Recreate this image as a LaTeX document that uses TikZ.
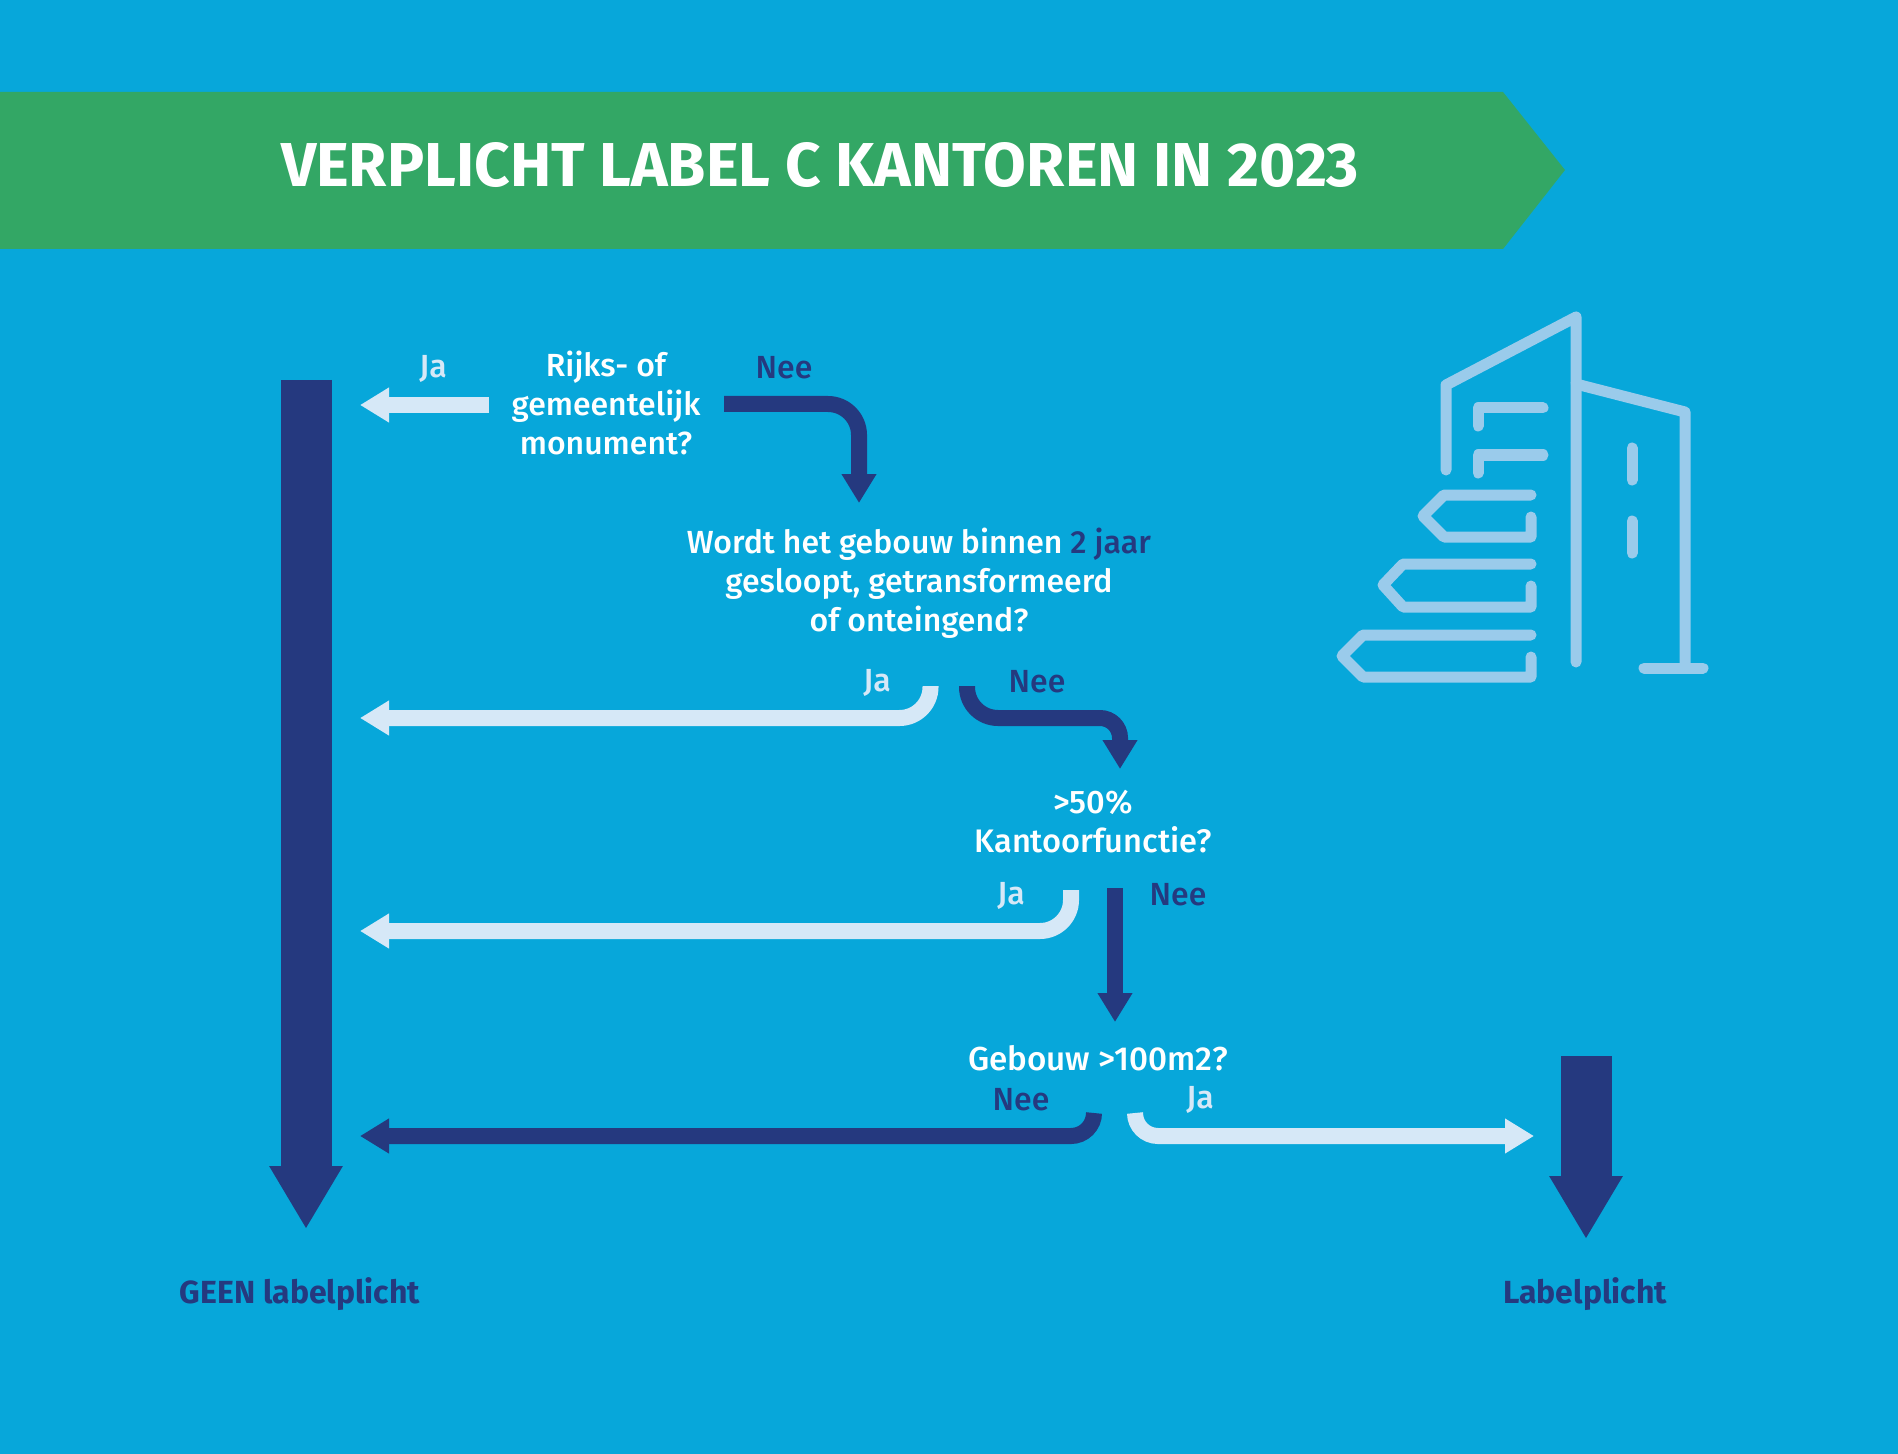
\documentclass[tikz,border=0pt]{standalone}
\usepackage{fontspec}
\setmainfont{Fira Sans Medium}[BoldFont={Fira Sans Bold}]
\usetikzlibrary{arrows.meta}
\definecolor{bgblue}{HTML}{07A7DA}
\definecolor{bannergreen}{HTML}{33A765}
\definecolor{navy}{HTML}{25397F}
\definecolor{pale}{HTML}{D6E8F7}
\definecolor{iconblue}{HTML}{9ACBEB}
\tikzset{
  x=0.5pt,y=-0.5pt,
  flowline/.style={line width=8pt,rounded corners=15.5pt,-{Triangle[length=14.5pt,width=16.5pt]}},
  yesline/.style={flowline,draw=pale},
  noline/.style={flowline,draw=navy},
  bigline/.style={line width=25.5pt,draw=navy,-{Triangle[length=31.5pt,width=34.5pt]}},
  question/.style={text=white,align=center,font=\fontsize{16}{19.6}\selectfont,inner sep=0pt},
  yeslabel/.style={text=pale,font=\fontsize{16}{20}\selectfont,inner sep=0pt},
  nolabel/.style={text=navy,font=\fontsize{16}{20}\selectfont,inner sep=0pt},
  result/.style={text=navy,font=\fontsize{16}{20}\selectfont\bfseries,inner sep=0pt},
  icon/.style={draw=iconblue,line width=5.5pt,line cap=round,line join=round}
}
\begin{document}
\begin{tikzpicture}
\useasboundingbox (0,0) rectangle (1898,1454);
\fill[bgblue] (0,0) rectangle (1898,1454);
\fill[bannergreen] (0,92) -- (1503,92) -- (1565,170) -- (1503,249) -- (0,249) -- cycle;
\node[text=white,inner sep=0pt,font=\fontsize{31}{38}\selectfont\bfseries] (title) at (820,165) {VERPLICHT LABEL C KANTOREN IN 2023};

% questions
\node[question] (q1) at (606,403) {Rijks- of\\gemeentelijk\\monument?};
\node[question] (q2) at (919,583.5) {Wordt het gebouw binnen \textcolor{navy}{2 jaar}\\gesloopt, getransformeerd\\of onteingend?};
\node[question,font=\fontsize{16.3}{19.6}\selectfont] (q3) at (1093,821.5) {>50\%\\Kantoorfunctie?};
\node[question,font=\fontsize{16.6}{19.6}\selectfont] (q4) at (1098,1058) {Gebouw >100m2?};

% labels
\node[yeslabel] (ja1) at (433,369) {Ja};
\node[nolabel] (nee1) at (784,368) {Nee};
\node[yeslabel] (ja2) at (877,683) {Ja};
\node[nolabel] (nee2) at (1037,682) {Nee};
\node[yeslabel] (ja3) at (1011,896) {Ja};
\node[nolabel] (nee3) at (1178,895) {Nee};
\node[nolabel] (nee4) at (1021,1100) {Nee};
\node[yeslabel] (ja4) at (1200,1100) {Ja};
\node[result] (geen) at (300,1294) {GEEN labelplicht};
\node[result] (plicht) at (1585,1294) {Labelplicht};

% connector ends
\coordinate (bigA) at (306,380);
\coordinate (bigAend) at (306,1229);
\coordinate (bigB) at (1586,1056);
\coordinate (bigBend) at (1586,1239);
\coordinate (a1s) at (489,405);
\coordinate (a1e) at (360,405);
\coordinate (b1s) at (724,404);
\coordinate (b1c) at (859,404);
\coordinate (b1e) at (859,503);
\coordinate (a2s) at (930.5,686);
\coordinate (a2c) at (930.5,718);
\coordinate (a2e) at (360,718);
\coordinate (b2s) at (967,686);
\coordinate (b2c) at (967,718);
\coordinate (b2d) at (1120,718);
\coordinate (b2e) at (1120,769);
\coordinate (a3s) at (1071,890);
\coordinate (a3c) at (1071,931);
\coordinate (a3e) at (360,931);
\coordinate (b3s) at (1115,888);
\coordinate (b3e) at (1115,1022);
\coordinate (b4s) at (1094,1113);
\coordinate (b4c) at (1094,1136);
\coordinate (b4e) at (360,1136);
\coordinate (a4s) at (1135,1113);
\coordinate (a4c) at (1135,1136);
\coordinate (a4e) at (1534,1136);

% connectors
\draw[bigline] (bigA) -- (bigAend);
\draw[bigline] (bigB) -- (bigBend);
\draw[yesline] (a1s) -- (a1e);
\draw[noline] (b1s) -- (b1c) -- (b1e);
\draw[yesline] (a2s) -- (a2c) -- (a2e);
\draw[noline] (b2s) -- (b2c) [rounded corners=10pt] -- (b2d) -- (b2e);
\draw[yesline] (a3s) -- (a3c) -- (a3e);
\draw[noline] (b3s) -- (b3e);
\draw[noline,rounded corners=11.5pt] (b4s) -- (b4c) -- (b4e);
\draw[yesline,rounded corners=11.5pt] (a4s) -- (a4c) -- (a4e);

% building icon
\draw[icon] (1446,470) -- (1446,385) -- (1576,317) -- (1576,662);
\draw[icon] (1576,384) -- (1685,412) -- (1685,667);
\draw[icon] (1644,668) -- (1703,668);
\draw[icon] (1478,426) -- (1478,408) -- (1543,408);
\draw[icon] (1478,473) -- (1478,455) -- (1543,455);
\draw[icon] (1632,448) -- (1632,480);
\draw[icon] (1632,521) -- (1632,553);
\draw[icon] (1531,495) -- (1444,495) -- (1423,516) -- (1444,537) -- (1531,537) -- (1531,517);
\draw[icon] (1531,564) -- (1403,564) -- (1383,585) -- (1403,607) -- (1531,607) -- (1531,586);
\draw[icon] (1531,635) -- (1363,635) -- (1342,656) -- (1363,677) -- (1531,677) -- (1531,657);
\end{tikzpicture}
\end{document}
